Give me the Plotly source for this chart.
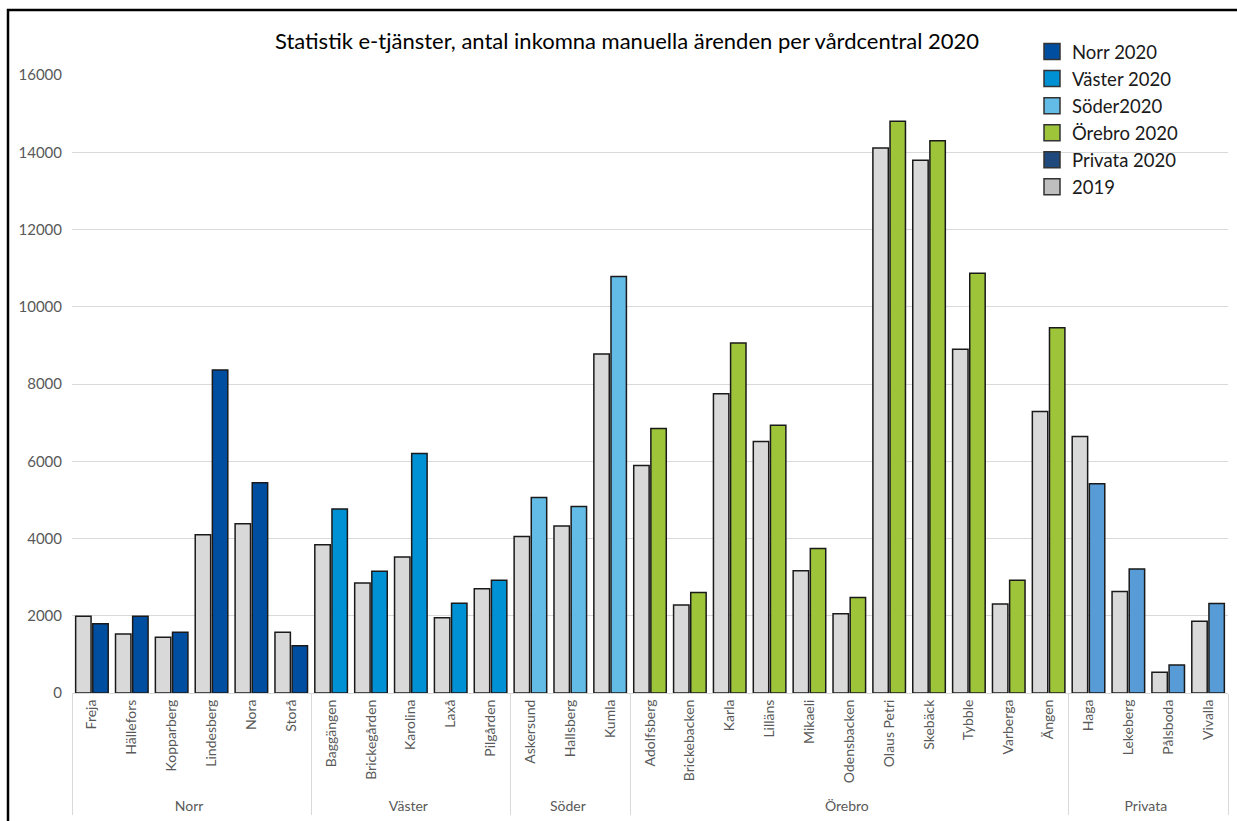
import plotly.graph_objects as go

# Vårdcentraler grouped by area
regions = (["Norr"] * 6 + ["Väster"] * 5 + ["Söder"] * 3 +
           ["Örebro"] * 11 + ["Privata"] * 4)
clinics = ["Freja", "Hällefors", "Kopparberg", "Lindesberg", "Nora", "Storå",
           "Baggängen", "Brickegården", "Karolina", "Laxå", "Pilgården",
           "Askersund", "Hallsberg", "Kumla",
           "Adolfsberg", "Brickebacken", "Karla", "Lilläns", "Mikaeli",
           "Odensbacken", "Olaus Petri", "Skebäck", "Tybble", "Varberga", "Ängen",
           "Haga", "Lekeberg", "Pålsboda", "Vivalla"]

cases_2019 = [1990, 1530, 1445, 4100, 4385, 1570,
              3840, 2850, 3520, 1950, 2700,
              4050, 4325, 8775,
              5890, 2280, 7750, 6510, 3165, 2055, 14110, 13790, 8900, 2305, 7290,
              6640, 2625, 540, 1860]
cases_2020 = [1795, 1990, 1570, 8365, 5445, 1225,
              4765, 3150, 6200, 2325, 2920,
              5060, 4830, 10785,
              6845, 2600, 9060, 6935, 3740, 2470, 14800, 14300, 10870, 2920, 9455,
              5415, 3210, 725, 2315]

area_order = ["Norr", "Väster", "Söder", "Örebro", "Privata"]
legend_names = ["Norr 2020", "Väster 2020", "Söder2020", "Örebro 2020", "Privata 2020"]
bar_colors = {"Norr": "#004EA0", "Väster": "#0090D4", "Söder": "#63BCE6",
              "Örebro": "#9EC43A", "Privata": "#579BD7"}
legend_colors = {"Norr": "#004EA0", "Väster": "#0090D4", "Söder": "#63BCE6",
                 "Örebro": "#9EC43A", "Privata": "#1F497D"}
grey_2019 = "#D9D9D9"
outline = dict(color="#1A1A1A", width=1.5)

FONT = "Lato, 'Open Sans', sans-serif"

fig = go.Figure()

fig.add_trace(go.Bar(
    x=[regions, clinics], y=cases_2019, name="2019",
    marker=dict(color=grey_2019, line=outline),
    offsetgroup="y2019", showlegend=False))

for area in area_order:
    idx = [i for i, r in enumerate(regions) if r == area]
    fig.add_trace(go.Bar(
        x=[[regions[i] for i in idx], [clinics[i] for i in idx]],
        y=[cases_2020[i] for i in idx],
        name=area + " 2020",
        marker=dict(color=bar_colors[area], line=outline),
        offsetgroup="y2020", showlegend=False))

# legend swatches
for area, label in zip(area_order, legend_names):
    fig.add_trace(go.Scatter(
        x=[None], y=[None], mode="markers", name=label,
        marker=dict(symbol="square", size=20, color=legend_colors[area],
                    line=dict(color="#333333", width=1.5))))
fig.add_trace(go.Scatter(
    x=[None], y=[None], mode="markers", name="2019",
    marker=dict(symbol="square", size=20, color="#BFBFBF",
                line=dict(color="#333333", width=1.5))))

L, R, T, B = 72, 9, 75, 128
W, H = 1237, 821
pw, ph = W - L - R, H - T - B

fig.update_layout(
    width=W, height=H,
    margin=dict(l=L, r=R, t=T, b=B, autoexpand=False),
    paper_bgcolor="white", plot_bgcolor="white",
    barmode="group", bargap=0.14, bargroupgap=0.1,
    font=dict(family=FONT, color="#595959"),
    title=dict(text="Statistik e-tjänster, antal inkomna manuella ärenden per vårdcentral 2020",
               x=627 / W, xanchor="center", y=1 - 41 / H, yanchor="middle",
               font=dict(family=FONT, size=22, color="#000000")),
    legend=dict(x=(1032 - L) / pw, xref="paper", y=(H - B - 33) / ph, yref="paper",
                xanchor="left", yanchor="top",
                font=dict(family=FONT, size=18.5, color="#1A1A1A"),
                bgcolor="rgba(0,0,0,0)", itemwidth=30, tracegroupgap=0),
    xaxis=dict(type="multicategory", tickangle=-90,
               tickfont=dict(family=FONT, size=14, color="#595959"),
               showline=True, linecolor="#D9D9D9", linewidth=1,
               showdividers=True, dividercolor="#D9D9D9", dividerwidth=1,
               showgrid=False),
    yaxis=dict(range=[0, 16000], dtick=2000, tickformat="d",
               gridcolor="#D9D9D9", gridwidth=1, zeroline=False,
               showline=False, ticks="",
               tickfont=dict(family=FONT, size=15, color="#595959"),
               ticklabelstandoff=9),
    shapes=[dict(type="rect", xref="paper", yref="paper",
                 x0=(8 - L) / pw, x1=(W + 5 - L) / pw,
                 y0=(H - B - (H + 5)) / ph, y1=(H - B - 10) / ph,
                 line=dict(color="#000000", width=2.5),
                 fillcolor="rgba(0,0,0,0)", layer="above")],
)

fig.write_html("out.html")
